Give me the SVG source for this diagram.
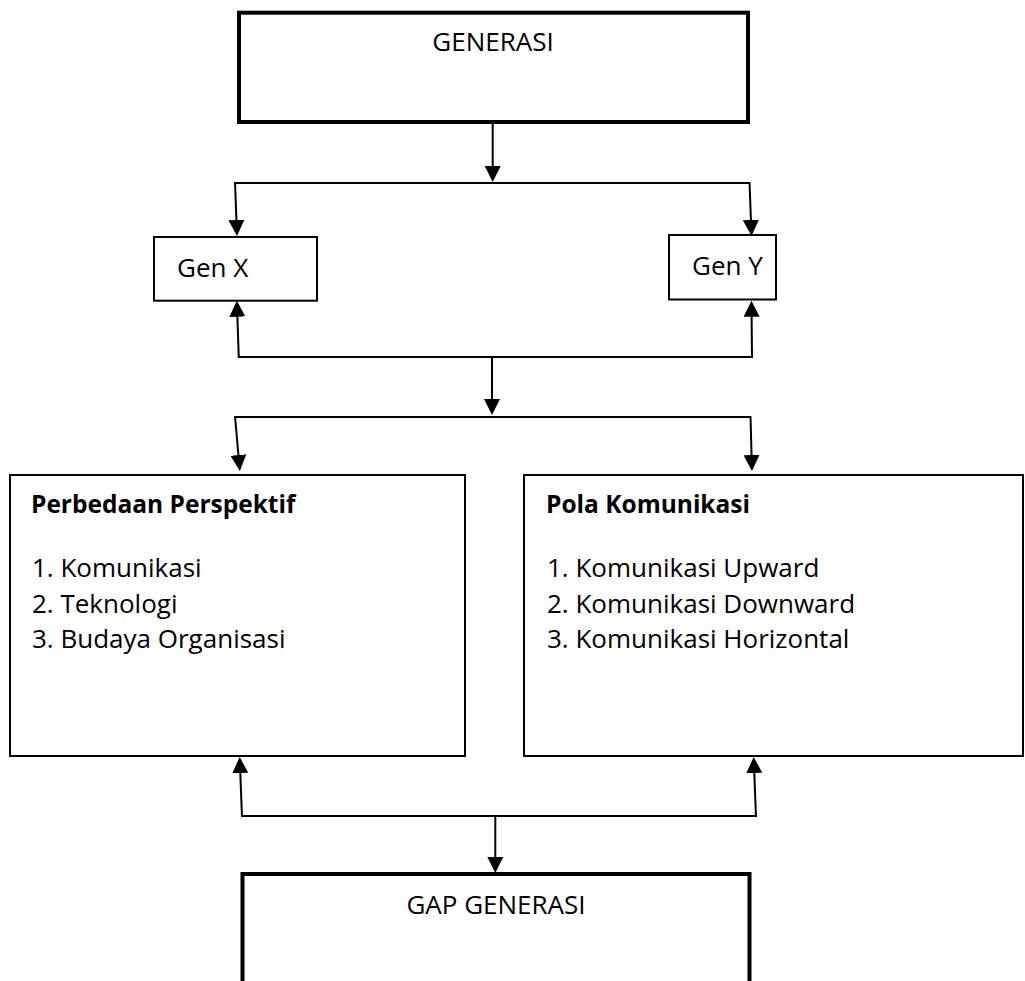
<svg xmlns="http://www.w3.org/2000/svg" width="1025" height="981" viewBox="0 0 1025 981">
<style>
  .thick { fill: #ffffff; stroke: #000000; stroke-width: 4; }
  .thin { fill: #ffffff; stroke: #000000; stroke-width: 2; }
  .conn { fill: none; stroke: #000000; stroke-width: 2; }
  .arr { marker-end: url(#ah); }
  text { font-family: "Open Sans", "Liberation Sans", sans-serif; font-size: 26px; fill: #000000; }
  .c { text-anchor: middle; }
  .b { font-weight: bold; font-size: 24.5px; }
</style>
<defs>
  <marker id="ah" viewBox="0 0 16 16" markerWidth="16" markerHeight="16" markerUnits="userSpaceOnUse" refX="2" refY="8" orient="auto">
    <path d="M0,0 L16,8 L0,16 z" fill="#000000"/>
  </marker>
</defs>
<rect width="1025" height="981" fill="#ffffff"/>

<g id="connectors">
  <path class="conn arr" d="M492.7,124 L492.7,168"/>
  <path class="conn" d="M235,183 L749.5,183"/>
  <path class="conn arr" d="M235,182 L236.5,222"/>
  <path class="conn arr" d="M749.5,182 L751,222"/>
  <path class="conn arr" d="M238.8,358 L237.3,314.7"/>
  <path class="conn arr" d="M752,358 L751.6,314.7"/>
  <path class="conn" d="M238,357 L753,357"/>
  <path class="conn arr" d="M492,357 L492,401"/>
  <path class="conn" d="M235,417 L751,417"/>
  <path class="conn arr" d="M235,416 L238.6,457"/>
  <path class="conn arr" d="M750.5,416 L751.6,457"/>
  <path class="conn arr" d="M242,817 L240.2,771"/>
  <path class="conn arr" d="M756,817 L754.2,771"/>
  <path class="conn" d="M241,816 L757,816"/>
  <path class="conn arr" d="M495.3,816 L495.3,859"/>
</g>

<g id="generasi">
  <rect class="thick" x="239" y="12.7" width="509" height="109.3"/>
  <text class="c" x="493" y="51">GENERASI</text>
</g>

<g id="gen-x">
  <rect class="thin" x="154" y="237" width="163" height="63.7"/>
  <text x="177" y="277">Gen X</text>
</g>

<g id="gen-y">
  <rect class="thin" x="669" y="235" width="107" height="64.5"/>
  <text x="692" y="275">Gen Y</text>
</g>

<g id="perbedaan-perspektif">
  <rect class="thin" x="10" y="475" width="455" height="281"/>
  <text class="b" x="31" y="513">Perbedaan Perspektif</text>
  <text x="32" y="577">1. Komunikasi</text>
  <text x="32" y="612.5">2. Teknologi</text>
  <text x="32" y="648">3. Budaya Organisasi</text>
</g>

<g id="pola-komunikasi">
  <rect class="thin" x="524" y="475" width="499" height="281"/>
  <text class="b" x="546" y="513">Pola Komunikasi</text>
  <text x="547" y="577">1. Komunikasi Upward</text>
  <text x="547" y="612.5">2. Komunikasi Downward</text>
  <text x="547" y="648">3. Komunikasi Horizontal</text>
</g>

<g id="gap-generasi">
  <path class="thick" d="M242.5,990 L242.5,874 L749.5,874 L749.5,990"/>
  <text class="c" x="496" y="914">GAP GENERASI</text>
</g>
</svg>
